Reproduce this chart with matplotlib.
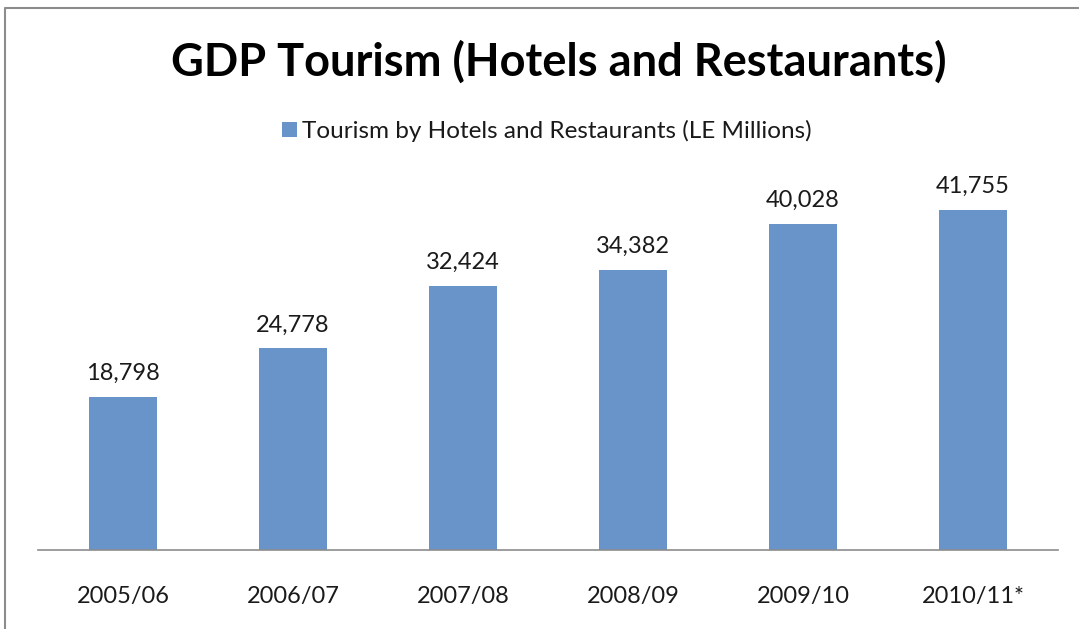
import numpy as np
import matplotlib.pyplot as plt
from matplotlib.lines import Line2D
from matplotlib.patches import Rectangle

plt.rcParams['font.family'] = ['Lato', 'DejaVu Sans']

# Datos
periodos = ['2005/06', '2006/07', '2007/08', '2008/09', '2009/10', '2010/11*']
valores = [18798, 24778, 32424, 34382, 40028, 41755]
serie = 'Tourism by Hotels and Restaurants (LE Millions)'
titulo = 'GDP Tourism (Hotels and Restaurants)'

azul = '#6894c9'

fig = plt.figure(figsize=(10.79, 6.29), dpi=100)
W, H = 1079, 629

# Marco exterior (solo arriba e izquierda)
fig.lines.append(Line2D([5 / W, 5 / W, 1], [0, 1 - 7.5 / H, 1 - 7.5 / H], transform=fig.transFigure,
                        color='#8c8c8c', linewidth=1.5))

ax = fig.add_axes([38 / W, (629 - 550) / H, 1020 / W, 380 / H])
x = np.arange(len(periodos))
barras = ax.bar(x, valores, width=0.395, color=azul)

for xi, v in zip(x, valores):
    ax.text(xi, v + 1600, f'{v:,}', ha='center', va='bottom', fontsize=17, color='#1a1a1a')

ax.set_xlim(-0.5, len(periodos) - 0.5)
ax.set_ylim(0, 46700)
ax.set_yticks([])
ax.set_xticks(x)
ax.set_xticklabels(periodos, fontsize=17, color='#1a1a1a')
ax.tick_params(axis='x', length=0, pad=26)
for s in ['top', 'right', 'left']:
    ax.spines[s].set_visible(False)
ax.spines['bottom'].set_color('#8c8c8c')
ax.spines['bottom'].set_linewidth(1.2)

# Titulo y leyenda
fig.text(559 / W, 1 - 62 / H, titulo, ha='center', va='center', fontsize=32.5, fontweight='bold')
fig.patches.append(Rectangle((282 / W, 1 - 137 / H), 15 / W, 15 / H, transform=fig.transFigure,
                             facecolor=azul, edgecolor='none'))
fig.text(302 / W, 1 - 131 / H, serie, ha='left', va='center', fontsize=17.5, color='#1a1a1a')

fig.savefig('out.png', dpi=100)
